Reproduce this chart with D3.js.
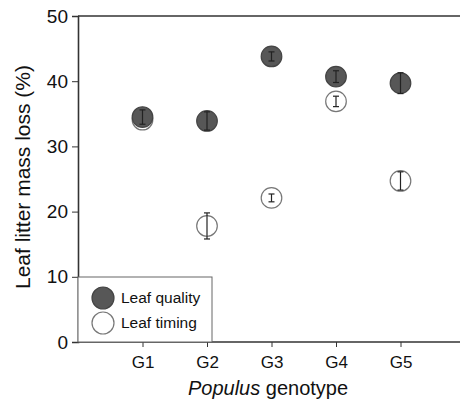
<!DOCTYPE html>
<html>
<head>
  <script src="https://d3js.org/d3.v7.min.js"></script>
  <style>
    body { margin: 0; background: #fff; }
    text { font-family: "Liberation Sans", Arial, sans-serif; }
  </style>
</head>
<body>
  <div id="chart"></div>
  <script>
    // data
    const genotypes = ["G1", "G2", "G3", "G4", "G5"];
    const qualityMean = [34.5, 33.9, 43.8, 40.7, 39.7];
    const qualityErr = [1.1, 1.4, 0.7, 0.9, 1.6];
    const timingMean = [34.1, 17.8, 22.1, 36.9, 24.7];
    const timingErr = [1.0, 2.0, 0.6, 0.8, 1.4];
    const yTicks = [0, 10, 20, 30, 40, 50];

    const width = 460, height = 401;
    const margin = { top: 16, right: 0, bottom: 59, left: 78 };

    const svg = d3.select("#chart").append("svg")
      .attr("width", width)
      .attr("height", height);

    const x = d3.scalePoint()
      .domain(genotypes)
      .range([margin.left, 465])
      .padding(1);

    const y = d3.scaleLinear()
      .domain([0, 50])
      .range([height - margin.bottom, margin.top]);

    // top frame line
    svg.append("line")
      .attr("x1", margin.left).attr("x2", width)
      .attr("y1", y(50)).attr("y2", y(50))
      .attr("stroke", "#333").attr("stroke-width", 1.6);

    const yAxis = svg.append("g")
      .attr("transform", `translate(${margin.left},0)`)
      .call(d3.axisLeft(y).tickValues(yTicks).tickSize(6).tickPadding(4));
    yAxis.select(".domain").attr("stroke", "#333").attr("stroke-width", 1.6);
    yAxis.selectAll(".tick line").attr("stroke", "#333");
    yAxis.selectAll("text").attr("font-size", 19).attr("fill", "#111");

    const xAxis = svg.append("g")
      .attr("transform", `translate(0,${y(0)})`)
      .call(d3.axisBottom(x).tickSize(5).tickPadding(9).tickSizeOuter(0));
    xAxis.select(".domain").attr("d", `M${margin.left},0H${width}`)
      .attr("stroke", "#333").attr("stroke-width", 1.6);
    xAxis.selectAll(".tick line").attr("stroke", "#333");
    xAxis.selectAll("text").attr("font-size", 17).attr("fill", "#111");

    // axis titles
    const xt = svg.append("text")
      .attr("x", 268).attr("y", 395)
      .attr("text-anchor", "middle")
      .attr("font-size", 20).attr("fill", "#111");
    xt.append("tspan").attr("font-style", "italic").text("Populus");
    xt.append("tspan").text(" genotype");

    svg.append("text")
      .attr("transform", `translate(30,177) rotate(-90)`)
      .attr("text-anchor", "middle")
      .attr("font-size", 21).attr("fill", "#111")
      .text("Leaf litter mass loss (%)");

    const r = 10.3;
    function drawSeries(means, errs, fill, stroke) {
      const g = svg.append("g");
      genotypes.forEach((k, i) => {
        const cx = x(k);
        g.append("circle")
          .attr("cx", cx).attr("cy", y(means[i])).attr("r", r)
          .attr("fill", fill).attr("stroke", stroke).attr("stroke-width", 1.2);
        const top = y(means[i] + errs[i]), bot = y(means[i] - errs[i]);
        g.append("line").attr("x1", cx).attr("x2", cx).attr("y1", top).attr("y2", bot)
          .attr("stroke", "#222").attr("stroke-width", 1.2);
        [top, bot].forEach(v => g.append("line")
          .attr("x1", cx - 3).attr("x2", cx + 3).attr("y1", v).attr("y2", v)
          .attr("stroke", "#222").attr("stroke-width", 1.2));
      });
    }
    drawSeries(timingMean, timingErr, "#fff", "#777");
    drawSeries(qualityMean, qualityErr, "#575757", "#444");

    // legend
    const lg = svg.append("g");
    lg.append("rect")
      .attr("x", margin.left).attr("y", 277)
      .attr("width", 134).attr("height", y(0) - 277)
      .attr("fill", "#fff").attr("stroke", "#666").attr("stroke-width", 1);
    const legendItems = [
      { label: "Leaf quality", fill: "#575757", stroke: "#444" },
      { label: "Leaf timing", fill: "#fff", stroke: "#777" }
    ];
    legendItems.forEach((d, i) => {
      const cy = 298 + i * 25;
      lg.append("circle").attr("cx", 103).attr("cy", cy).attr("r", 11)
        .attr("fill", d.fill).attr("stroke", d.stroke).attr("stroke-width", 1.2);
      lg.append("text").attr("x", 121).attr("y", cy + 5)
        .attr("font-size", 15.5).attr("fill", "#111").text(d.label);
    });
  </script>
</body>
</html>
